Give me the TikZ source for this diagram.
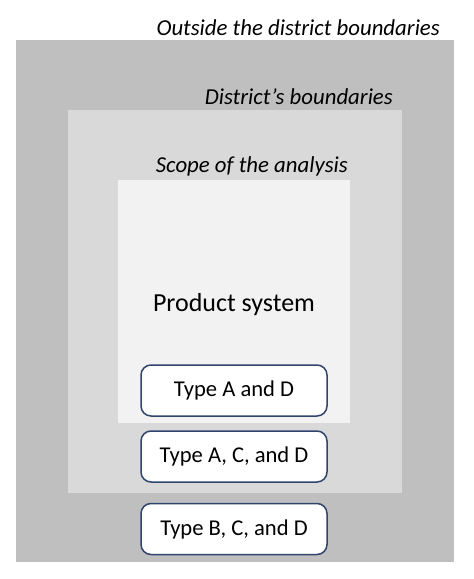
\documentclass[tikz,border=0pt]{standalone}
\usepackage{fontspec}
\setmainfont{Carlito}
\definecolor{outergray}{RGB}{191,191,191}
\definecolor{midgray}{RGB}{217,217,217}
\definecolor{innergray}{RGB}{242,242,242}
\definecolor{boxborder}{RGB}{47,69,110}
\begin{document}
\begin{tikzpicture}[x=1pt,y=-1pt,
  region/.style={draw=none,inner sep=0pt,outer sep=0pt},
  regionlabel/.style={inner sep=0pt,anchor=base east,font=\fontsize{22.8}{27}\selectfont\itshape},
  typebox/.style={draw=boxborder,line width=1.5pt,rounded corners=10pt,fill=white,
    minimum width=186pt,minimum height=51pt,inner sep=0pt,font=\fontsize{22.6}{27}\selectfont}]
\useasboundingbox (0,0) rectangle (474,579);
\fill[white] (0,0) rectangle (474,579);
\fill[outergray] (16,40) rectangle (454,562);
\fill[midgray] (68,110) rectangle (402,493);
\fill[innergray] (118,180) rectangle (350,423);
\node[regionlabel] (lout) at (440,35) {Outside the district boundaries};
\node[regionlabel] (ldis) at (393,104) {District’s boundaries};
\node[regionlabel] (lscope) at (348,172) {Scope of the analysis};
\node[inner sep=0pt,anchor=base,font=\fontsize{26}{31}\selectfont] (prod) at (234,311) {Product system};
\node[typebox] (ad) at (234,390.5) {Type A and D};
\node[typebox] (acd) at (234,456.5) {Type A, C, and D};
\node[typebox] (bcd) at (234,529) {Type B, C, and D};
\end{tikzpicture}
\end{document}
